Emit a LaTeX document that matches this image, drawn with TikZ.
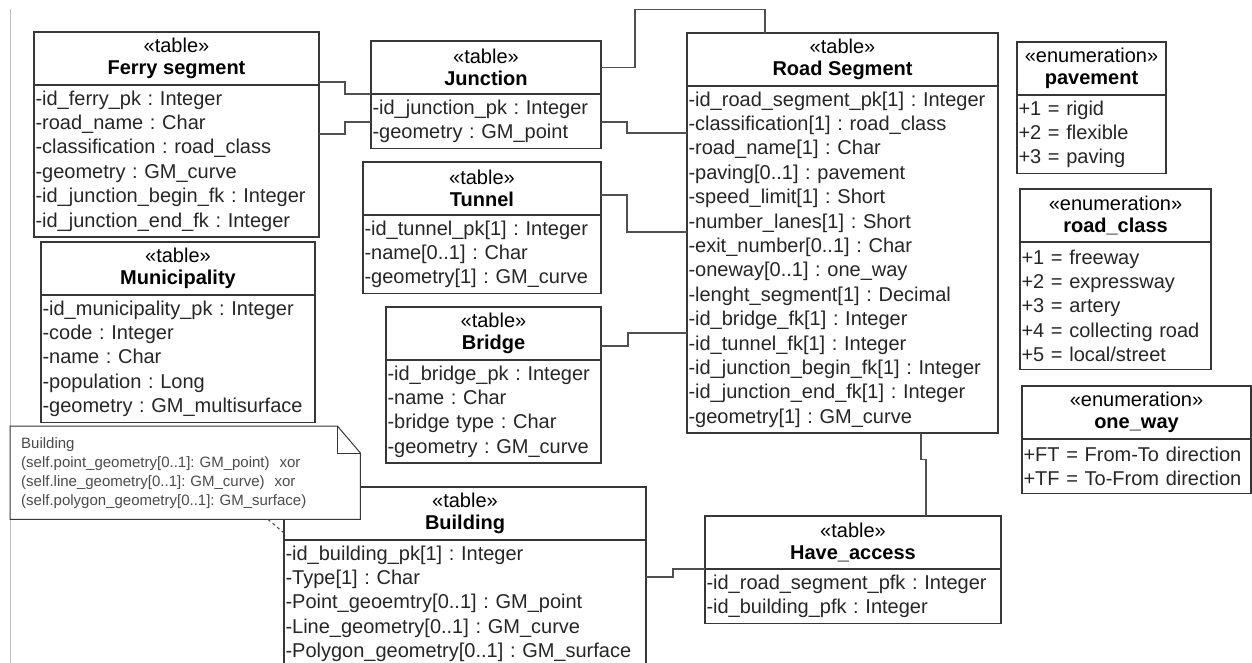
\documentclass[tikz,border=0pt]{standalone}
\usepackage{fontspec}
\setmainfont{Liberation Sans}
\usetikzlibrary{positioning,calc}

\definecolor{boxline}{RGB}{55,55,55}
\definecolor{linkline}{RGB}{80,80,80}
\definecolor{notetext}{RGB}{75,75,75}

\begin{document}
\frenchspacing
\begin{tikzpicture}[x=1pt,y=-1pt,
  tblhead/.style={draw=boxline, line width=1.3pt, outer sep=0pt, inner sep=0pt,
    anchor=north west, align=center, minimum height=53pt, minimum width=#1,
    fill=white, font=\fontsize{20}{22}\selectfont},
  tblbody/.style={draw=boxline, line width=1.3pt, outer sep=0pt, inner xsep=1.5pt,
    inner ysep=0pt, align=left, text width=#1, fill=white, text=black!85,
    font=\fontsize{20}{24.4}\selectfont},
  nrows/.style={minimum height=#1*24.4pt+5.5pt},
  notebox/.style={anchor=north west, fill=white, inner xsep=11pt, inner ysep=0pt,
    minimum height=93pt, text width=328pt, align=left, text=notetext,
    font=\fontsize{15}{19}\selectfont},
  link/.style={draw=linkline, line width=1.1pt},
]

  \useasboundingbox (0,0) rectangle (1252,663);
  \clip (0,0) rectangle (1252,663);
  \fill[white] (0,0) rectangle (1252,663);
  \draw[black!25, line width=1pt] (10,9) -- (10,663);

  % Tables

  \node[tblhead=285] (ferry) at (34,32) {«table»\\\textbf{Ferry segment}};
  \node[tblbody=282pt, nrows=6, below=0pt of ferry] (ferryb) {-id\_ferry\_pk : Integer\\-road\_name : Char\\-classification : road\_class\\-geometry : GM\_curve\\-id\_junction\_begin\_fk : Integer\\-id\_junction\_end\_fk : Integer};

  \node[tblhead=230] (junction) at (371,41) {«table»\\\textbf{Junction}};
  \node[tblbody=227pt, nrows=2, below=0pt of junction] (junctionb) {-id\_junction\_pk : Integer\\-geometry : GM\_point};

  \node[tblhead=238] (tunnel) at (363,162) {«table»\\\textbf{Tunnel}};
  \node[tblbody=235pt, nrows=3, below=0pt of tunnel] (tunnelb) {-id\_tunnel\_pk[1] : Integer\\-name[0..1] : Char\\-geometry[1] : GM\_curve};

  \node[tblhead=215] (bridge) at (386,307) {«table»\\\textbf{Bridge}};
  \node[tblbody=212pt, nrows=4, below=0pt of bridge] (bridgeb) {-id\_bridge\_pk : Integer\\-name : Char\\-bridge type : Char\\-geometry : GM\_curve};

  \node[tblhead=274] (muni) at (41,242) {«table»\\\textbf{Municipality}};
  \node[tblbody=271pt, nrows=5, below=0pt of muni] (munib) {-id\_municipality\_pk : Integer\\-code : Integer\\-name : Char\\-population : Long\\-geometry : GM\_multisurface};

  \node[tblhead=311] (road) at (687,33) {«table»\\\textbf{Road Segment}};
  \node[tblbody=308pt, nrows=14, below=0pt of road] (roadb) {-id\_road\_segment\_pk[1] : Integer\\-classification[1] : road\_class\\-road\_name[1] : Char\\-paving[0..1] : pavement\\-speed\_limit[1] : Short\\-number\_lanes[1] : Short\\-exit\_number[0..1] : Char\\-oneway[0..1] : one\_way\\-lenght\_segment[1] : Decimal\\-id\_bridge\_fk[1] : Integer\\-id\_tunnel\_fk[1] : Integer\\-id\_junction\_begin\_fk[1] : Integer\\-id\_junction\_end\_fk[1] : Integer\\-geometry[1] : GM\_curve};

  \node[tblhead=362] (building) at (284,487) {«table»\\\textbf{Building}};
  \node[tblbody=359pt, nrows=5, below=0pt of building] (buildingb) {-id\_building\_pk[1] : Integer\\-Type[1] : Char\\-Point\_geoemtry[0..1] : GM\_point\\-Line\_geometry[0..1] : GM\_curve\\-Polygon\_geometry[0..1] : GM\_surface};

  \node[tblhead=296] (access) at (705,516) {«table»\\\textbf{Have\_access}};
  \node[tblbody=293pt, nrows=2, below=0pt of access] (accessb) {-id\_road\_segment\_pfk : Integer\\-id\_building\_pfk : Integer};

  % Enumerations

  \node[tblhead=149] (pavement) at (1017,42) {«enumeration»\\\textbf{pavement}};
  \node[tblbody=146pt, nrows=3, below=0pt of pavement] (pavementb) {+1 = rigid\\+2 = flexible\\+3 = paving};

  \node[tblhead=191] (roadclass) at (1020,189) {«enumeration»\\\textbf{road\_class}};
  \node[tblbody=188pt, nrows=5, below=0pt of roadclass] (roadclassb) {+1 = freeway\\+2 = expressway\\+3 = artery\\+4 = collecting road\\+5 = local/street};

  \node[tblhead=229] (oneway) at (1022,386) {«enumeration»\\\textbf{one\_way}};
  \node[tblbody=226pt, nrows=2, below=0pt of oneway] (onewayb) {+FT = From-To direction\\+TF = To-From direction};

  % Links

  \draw[link] ($(ferry.south east)+(0,-3)$) -- ++(26,0) |- (junction.south west);
  \draw[link] ($(ferryb.north east)+(0,49)$) -- ++(26,0) |- ($(junctionb.north west)+(0,28)$);
  \draw[link] (junction.east) -- ++(34,0) -- ++(0,-58) -| ($(road.north west)+(78,0)$);
  \draw[link] ($(junctionb.north east)+(0,28)$) -- ++(26,0) |- ($(roadb.north west)+(0,47)$);
  \draw[link] ($(tunnel.north east)+(0,33)$) -- ++(26,0) |- ($(roadb.north west)+(0,146)$);
  \draw[link] ($(bridge.north east)+(0,39)$) -- ++(27,0) |- ($(roadb.north west)+(0,247)$);
  \draw[link] ($(roadb.south west)+(234,0)$) -- ++(0,26) -| ($(access.north west)+(221,0)$);
  \draw[link] ($(buildingb.north east)+(0,37)$) -- ++(27,0) |- (access.south west);

  % Note

  \node[notebox] (note) at (10,426) {Building\\(self.point\_geometry[0..1]: GM\_point)\ \ xor\\(self.line\_geometry[0..1]: GM\_curve)\ \ xor\\(self.polygon\_geometry[0..1]: GM\_surface)};
  \draw[boxline, line width=1pt] (note.north west) -- ($(note.north east)+(-23,0)$)
    -- ($(note.north east)+(0,27)$) -- (note.south east) -- (note.south west) -- cycle;
  \draw[boxline, line width=1pt] ($(note.north east)+(-23,0)$) |- ($(note.north east)+(0,27)$);
  \draw[link, dashed] ($(note.south west)+(258,0)$) -- ($(buildingb.north west)+(0,-7)$);

\end{tikzpicture}
\end{document}
